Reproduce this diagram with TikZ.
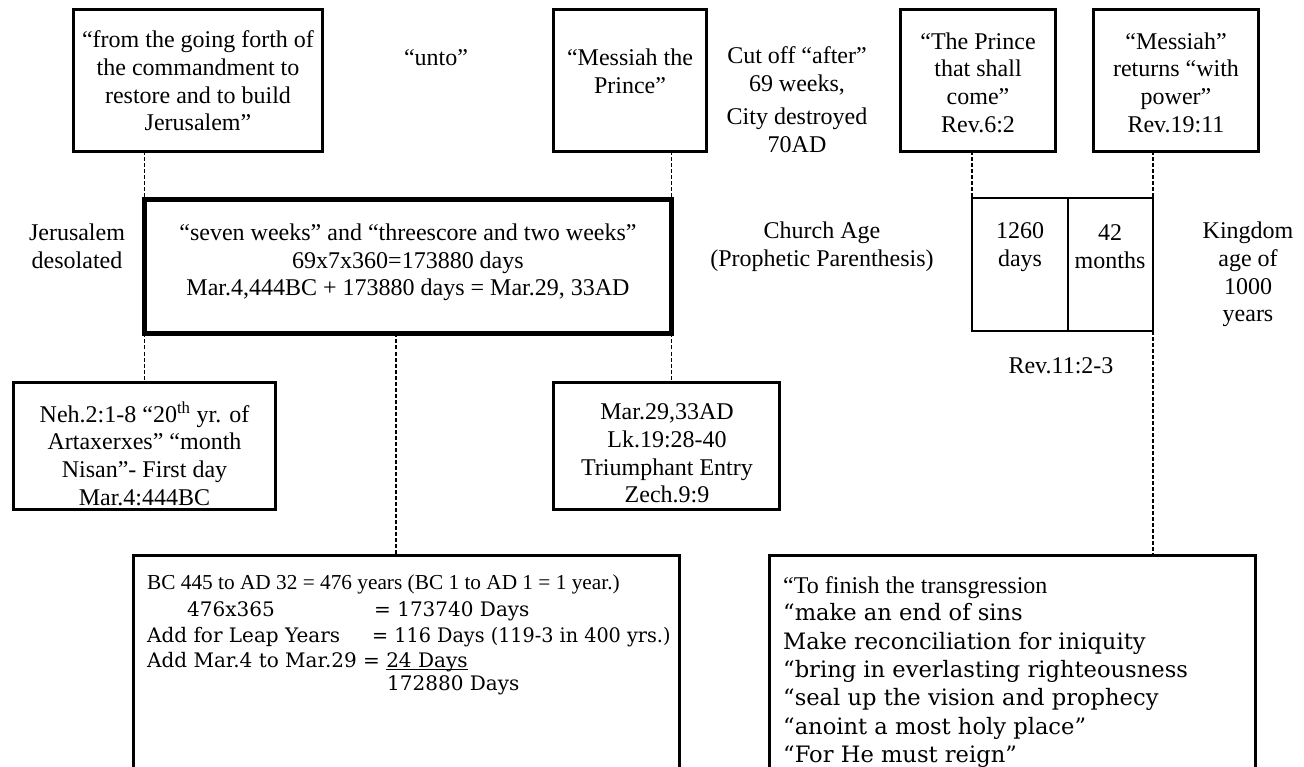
\documentclass[tikz,border=0pt]{standalone}
\usepackage{fontspec}
\usepackage{graphicx}
\setmainfont{Liberation Serif}
\newfontfamily\widefont{DejaVu Serif}
\begin{document}
\begin{tikzpicture}[x=1pt,y=-1pt,
  box/.style={draw, line width=2.5pt, inner sep=0pt, outer sep=0pt},
  bigbox/.style={draw, line width=5pt, inner sep=0pt, outer sep=0pt},
  txt/.style={inner sep=0pt, align=center, font=\fontsize{24}{27.7}\selectfont},
  small/.style={inner sep=0pt, anchor=base west, font=\fontsize{21.3}{24}\selectfont},
  big24/.style={inner sep=0pt, anchor=base west, font=\fontsize{24}{27}\selectfont},
  wide/.style={inner sep=0pt, anchor=base west, font=\widefont\fontsize{20}{24}\selectfont},
  widebig/.style={inner sep=0pt, anchor=base west, font=\widefont\fontsize{22.6}{27}\selectfont},
  conn/.style={line width=1.5pt, dash pattern=on 4pt off 2pt}]
\fill[white] (0,0) rectangle (1304,767);
\useasboundingbox (0,0) rectangle (1304,767);

% top row boxes
\node[box, minimum width=249pt, minimum height=142pt] (b1) at (198,80.5) {};
\node[box, minimum width=153pt, minimum height=142pt] (b2) at (630,80.5) {};
\node[box, minimum width=155pt, minimum height=142pt] (b3) at (978,80.5) {};
\node[box, minimum width=165pt, minimum height=142pt] (b4) at (1176,80.5) {};

\node[txt] (t1) at (198,81) {“from the going forth of\\the commandment to\\restore and to build\\Jerusalem”};
\node[txt] (unto) at (436,58) {“unto”};
\node[txt] (t2) at (630,71) {“Messiah the\\Prince”};
\node[txt] (cut) at (797,71) {Cut off “after”\\69 weeks,};
\node[txt] (city) at (797,130) {City destroyed\\70AD};
\node[txt] (t3) at (978,82.5) {“The Prince\\that shall\\come”\\Rev.6:2};
\node[txt] (t4) at (1176,82.5) {“Messiah”\\returns “with\\power”\\Rev.19:11};

% middle row
\node[bigbox, minimum width=527pt, minimum height=134pt] (big) at (408,266.5) {};
\node[txt] (tbig) at (408,262.5) {“seven weeks” and “threescore and two weeks”\\69x7x360=173880 days\\Mar.4,444BC + 173880 days = Mar.29, 33AD};
\node[txt] (jer) at (77,246.5) {Jerusalem\\desolated};
\node[txt] (church) at (822,246.5) {Church Age\\(Prophetic Parenthesis)};

\node[box, minimum width=181pt, minimum height=133pt] (trib) at (1062.5,264.5) {};
\coordinate (divtop) at (1068,198);
\coordinate (divbot) at (1068,331);
\draw[line width=2.5pt] (divtop) -- (divbot);
\node[txt] (d1260) at (1020,247) {1260\\days};
\node[txt] (m42) at (1110,247) {42\\months};
\node[txt] (king) at (1248,274.5) {Kingdom\\age of\\1000\\years};
\node[txt] (rev11) at (1061,366) {Rev.11:2-3};

% lower row
\node[box, minimum width=262pt, minimum height=127pt] (neh) at (144.5,446) {};
\node[txt] (tneh) at (144.5,453.5) {Neh.2:1-8 “20\textsuperscript{th} yr. of\\Artaxerxes” “month\\Nisan”- First day\\Mar.4:444BC};
\node[box, minimum width=226pt, minimum height=127pt] (mar) at (666.5,446) {};
\node[txt] (tmar) at (667,453.5) {Mar.29,33AD\\Lk.19:28-40\\Triumphant Entry\\Zech.9:9};

% bottom boxes
\node[box, minimum width=546pt, minimum height=244.5pt] (bl) at (406.5,677.75) {};
\node[box, minimum width=486pt, minimum height=244.5pt] (br) at (1012.5,677.75) {};

\node[small] (l1) at (147,589.5) {BC 445 to AD 32 = 476 years (BC 1 to AD 1 = 1 year.)};
\node[wide] (l2a) at (187,616) {476x365};
\node[wide] (l2b) at (374,616) {= 173740 Days};
\node[wide] (l3a) at (147,642) {Add for Leap Years};
\node[wide] (l3b) at (372,642) {\scalebox{0.96}[1]{= 116 Days (119-3 in 400 yrs.)}};
\node[wide] (l4) at (147,667.5) {Add Mar.4 to Mar.29 = \underline{\smash{24 Days}}};
\node[wide] (l5) at (387,690) {172880 Days};

\node[big24] (r1) at (783,593.5) {“To finish the transgression};
\node[widebig] (r2) at (783,620.5) {“make an end of sins};
\node[widebig] (r3) at (783,649.5) {Make reconciliation for iniquity};
\node[widebig] (r4) at (783,677.5) {“bring in everlasting righteousness};
\node[widebig] (r5) at (783,705.5) {“seal up the vision and prophecy};
\node[widebig] (r6) at (783,734.5) {“anoint a most holy place”};
\node[widebig] (r7) at (783,762.5) {“For He must reign”};

% connectors
\draw[conn] (big.north west |- b1.south) -- (big.north west);
\draw[conn] (big.north east |- b2.south) -- (big.north east);
\draw[conn] (big.south west) -- (big.south west |- neh.north);
\draw[conn] (big.south east) -- (big.south east |- mar.north);
\draw[conn] ([xshift=-12pt]big.south) -- ([xshift=-12pt]big.south |- bl.north);
\draw[conn] (trib.north west |- b3.south) -- (trib.north west);
\draw[conn] (trib.north east |- b4.south) -- (trib.north east);
\draw[conn] (trib.south east) -- (trib.south east |- br.north);
\end{tikzpicture}
\end{document}
